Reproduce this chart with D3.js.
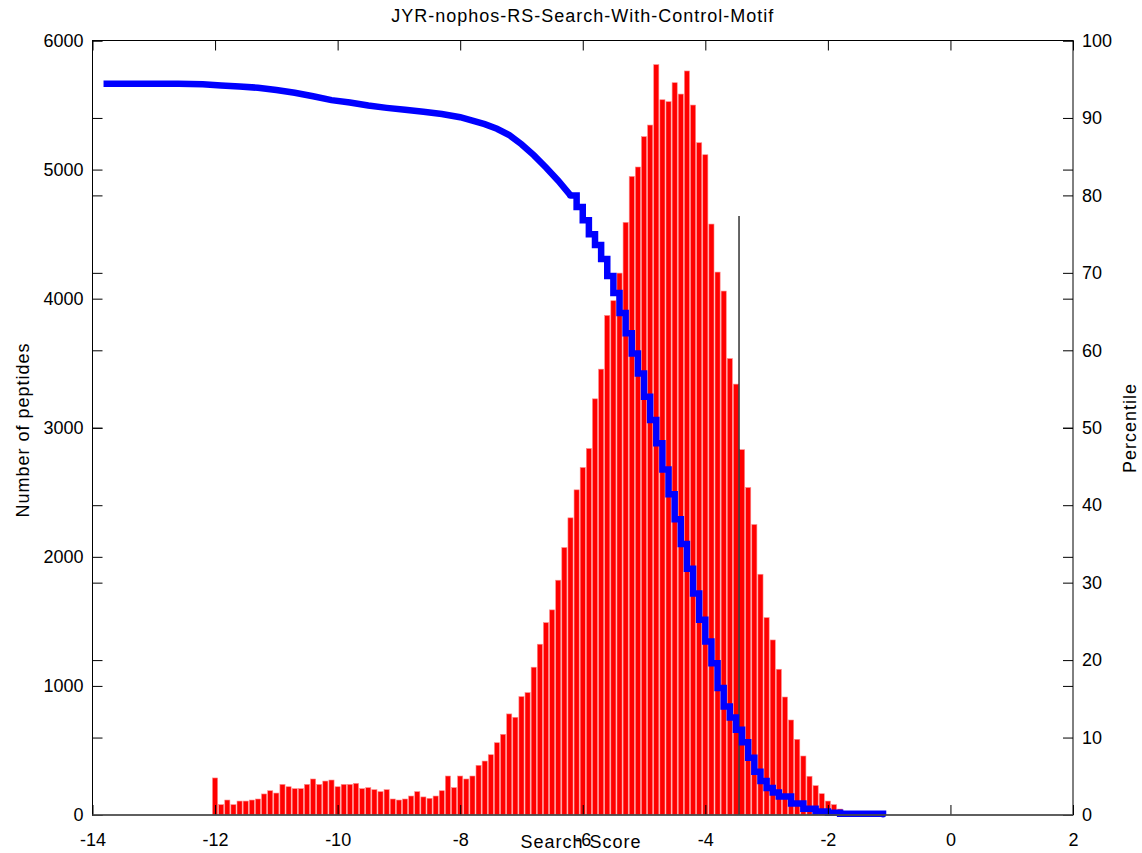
<!DOCTYPE html>
<html>
<head>
<meta charset="utf-8">
<script src="https://d3js.org/d3.v7.min.js"></script>
<style>
body { margin: 0; background: #fff; }
text { font-family: "Liberation Sans", Arial, Helvetica, sans-serif; fill: #000; }
</style>
</head>
<body>
<div class="container"></div>
<script>
// histogram bins (search score, bin centres) and peptide counts
var binCenters = [
  -12.0, -11.9, -11.8, -11.7, -11.6, -11.5, -11.4, -11.3, -11.2, -11.1,
  -11.0, -10.9, -10.8, -10.7, -10.6, -10.5, -10.4, -10.3, -10.2, -10.1,
  -10.0, -9.9, -9.8, -9.7, -9.6, -9.5, -9.4, -9.3, -9.2, -9.1,
  -9.0, -8.9, -8.8, -8.7, -8.6, -8.5, -8.4, -8.3, -8.2, -8.1,
  -8.0, -7.9, -7.8, -7.7, -7.6, -7.5, -7.4, -7.3, -7.2, -7.1,
  -7.0, -6.9, -6.8, -6.7, -6.6, -6.5, -6.4, -6.3, -6.2, -6.1,
  -6.0, -5.9, -5.8, -5.7, -5.6, -5.5, -5.4, -5.3, -5.2, -5.1,
  -5.0, -4.9, -4.8, -4.7, -4.6, -4.5, -4.4, -4.3, -4.2, -4.1,
  -4.0, -3.9, -3.8, -3.7, -3.6, -3.5, -3.4, -3.3, -3.2, -3.1,
  -3.0, -2.9, -2.8, -2.7, -2.6, -2.5, -2.4, -2.3, -2.2, -2.1,
  -2.0, -1.9, -1.8, -1.7
];
var counts = [
  287, 80, 116, 80, 108, 108, 116, 124, 163, 188,
  170, 237, 219, 204, 204, 237, 279, 237, 263, 271,
  219, 237, 237, 245, 204, 212, 196, 181, 196, 124,
  116, 124, 147, 181, 140, 129, 147, 188, 302, 212,
  302, 279, 302, 385, 418, 467, 560, 625, 783, 757,
  917, 948, 1145, 1323, 1490, 1589, 1819, 2072, 2302, 2519,
  2692, 2839, 3224, 3454, 3870, 3984, 4198, 4591, 4947, 5020,
  5255, 5345, 5813, 5541, 5526, 5673, 5585, 5764, 5500, 5208,
  5115, 4578, 4206, 4059, 3536, 3338, 2830, 2537, 2250, 1865,
  1529, 1356, 1129, 914, 736, 586, 457, 300, 227, 165,
  108, 80, 46, 15
];
var binWidth = 0.1;

// percentile curve (right axis): smooth upper part, stair-stepped lower part
var pctScoreUpper = [
  -13.82, -12.6, -12.2, -11.9, -11.6, -11.3, -11.0, -10.7, -10.4, -10.1,
  -9.8, -9.5, -9.2, -8.9, -8.6, -8.3, -8.0, -7.8, -7.6, -7.4,
  -7.2, -7.0, -6.8, -6.6, -6.4, -6.2
];
var pctValueUpper = [
  94.4, 94.4, 94.34, 94.2, 94.05, 93.9, 93.6, 93.25, 92.8, 92.3,
  92.0, 91.6, 91.3, 91.05, 90.8, 90.5, 90.1, 89.65, 89.2, 88.6,
  87.8, 86.6, 85.2, 83.6, 81.9, 80.0
];
var pctScoreLower = [
  -6.2, -6.1, -6.0, -5.9, -5.8,
  -5.7, -5.6, -5.5, -5.4, -5.3, -5.2, -5.1, -5.0, -4.9, -4.8,
  -4.7, -4.6, -4.5, -4.4, -4.3, -4.2, -4.1, -4.0, -3.9, -3.8,
  -3.7, -3.6, -3.5, -3.4, -3.3, -3.2, -3.1, -3.0, -2.9, -2.8,
  -2.6, -2.4, -2.2, -2.0, -1.8, -1.1
];
var pctValueLower = [
  80.0, 78.5, 76.8, 75.0, 73.6,
  71.8, 69.6, 67.4, 64.8, 62.2, 59.6, 57.0, 54.0, 51.0, 48.0,
  44.6, 41.4, 38.2, 35.0, 31.8, 28.6, 25.2, 22.4, 19.6, 16.4,
  14.0, 12.6, 11.0, 9.4, 7.4, 5.6, 4.4, 3.5, 2.9, 2.4,
  1.5, 0.8, 0.45, 0.3, 0.15, 0.1
];

// single vertical marker line
var markerScore = -3.45;
var markerCount = 4640;

var xTicks = [-14, -12, -10, -8, -6, -4, -2, 0, 2];
var yTicks = [0, 1000, 2000, 3000, 4000, 5000, 6000];
var pTicks = [0, 10, 20, 30, 40, 50, 60, 70, 80, 90, 100];

var width = 1142, height = 853;
var plotLeft = 92.5, plotRight = 1073, plotTop = 40.5, plotBottom = 815;

var svg = d3.select("div.container").append("svg")
    .attr("width", width)
    .attr("height", height)
    .style("display", "block");

svg.append("rect").attr("width", width).attr("height", height).attr("fill", "#fff");

var x_scale = d3.scaleLinear().domain([-14, 2]).range([plotLeft, plotRight]);
var y_scale = d3.scaleLinear().domain([0, 6000]).range([plotBottom, plotTop]);
var p_scale = d3.scaleLinear().domain([0, 100]).range([plotBottom, plotTop]);

var plain = function(d) { return String(d); };

// bars
svg.append("g").selectAll("rect")
    .data(binCenters)
    .enter().append("rect")
    .attr("x", function(d) { return x_scale(d - binWidth / 2) + 0.5; })
    .attr("width", function(d) { return x_scale(d + binWidth / 2) - x_scale(d - binWidth / 2) - 1; })
    .attr("y", function(d, i) { return y_scale(counts[i]); })
    .attr("height", function(d, i) { return plotBottom - y_scale(counts[i]); })
    .attr("fill", "#ff0000")
    .attr("stroke", "#ff8a8a")
    .attr("stroke-width", 0.6);

// marker line
svg.append("line")
    .attr("x1", x_scale(markerScore)).attr("x2", x_scale(markerScore))
    .attr("y1", y_scale(0)).attr("y2", y_scale(markerCount))
    .attr("stroke", "#000").attr("stroke-width", 1.2);

// percentile curve
var plot_pct = function (scores, values, curve, cap) {
  var line = d3.line()
      .curve(curve)
      .x(function(d) { return x_scale(d[0]); })
      .y(function(d) { return p_scale(d[1]); });

  svg.append("path")
      .datum(scores.map(function(s, i) { return [s, values[i]]; }))
      .attr("fill", "none")
      .attr("stroke", "#0000ff")
      .attr("stroke-width", 6.5)
      .attr("stroke-linejoin", "miter")
      .attr("stroke-linecap", cap)
      .attr("d", line);
};
plot_pct(pctScoreUpper, pctValueUpper, d3.curveLinear, "butt");
plot_pct(pctScoreLower, pctValueLower, d3.curveStepAfter, "round");

// axes, ticks pointing inward
function styleAxis(g) {
  g.select(".domain").remove();
  g.selectAll(".tick line").attr("stroke", "#000");
  g.selectAll(".tick text")
      .attr("font-family", '"Liberation Sans", Arial, sans-serif')
      .attr("font-size", 18)
      .attr("fill", "#000");
}

svg.append("g")
    .attr("transform", "translate(0," + plotBottom + ")")
    .call(d3.axisBottom(x_scale).tickValues(xTicks).tickSize(-10).tickPadding(18).tickFormat(plain))
    .call(styleAxis);

svg.append("g")
    .attr("transform", "translate(0," + plotTop + ")")
    .call(d3.axisTop(x_scale).tickValues(xTicks).tickSize(-10).tickFormat(""))
    .call(styleAxis);

svg.append("g")
    .attr("transform", "translate(" + plotLeft + ",0)")
    .call(d3.axisLeft(y_scale).tickValues(yTicks).tickSize(-10).tickPadding(9).tickFormat(plain))
    .call(styleAxis);

svg.append("g")
    .attr("transform", "translate(" + plotLeft + ",0)")
    .call(d3.axisLeft(p_scale).tickValues(pTicks).tickSize(-10).tickFormat(""))
    .call(styleAxis);

svg.append("g")
    .attr("transform", "translate(" + plotRight + ",0)")
    .call(d3.axisRight(p_scale).tickValues(pTicks).tickSize(-10).tickPadding(9).tickFormat(plain))
    .call(styleAxis);

svg.append("g")
    .attr("transform", "translate(" + plotRight + ",0)")
    .call(d3.axisRight(y_scale).tickValues(yTicks).tickSize(-10).tickFormat(""))
    .call(styleAxis);

// box
svg.append("rect")
    .attr("x", plotLeft).attr("y", plotTop)
    .attr("width", plotRight - plotLeft).attr("height", plotBottom - plotTop)
    .attr("fill", "none").attr("stroke", "#000").attr("stroke-width", 1);
svg.append("line")
    .attr("x1", plotLeft).attr("x2", plotRight).attr("y1", plotBottom).attr("y2", plotBottom)
    .attr("stroke", "#555").attr("stroke-width", 1.5);

// titles
svg.append("text")
    .attr("x", (plotLeft + plotRight) / 2).attr("y", 22)
    .attr("text-anchor", "middle")
    .attr("font-size", 18).attr("letter-spacing", 1)
    .text("JYR-nophos-RS-Search-With-Control-Motif");

svg.append("text")
    .attr("x", 581).attr("y", 848)
    .attr("text-anchor", "middle")
    .attr("font-size", 18).attr("letter-spacing", 1)
    .text("Search Score");

svg.append("text")
    .attr("transform", "translate(29,430) rotate(-90)")
    .attr("text-anchor", "middle")
    .attr("font-size", 18).attr("letter-spacing", 1)
    .text("Number of peptides");

svg.append("text")
    .attr("transform", "translate(1136,428) rotate(-90)")
    .attr("text-anchor", "middle")
    .attr("font-size", 18).attr("letter-spacing", 1)
    .text("Percentile");
</script>
</body>
</html>
